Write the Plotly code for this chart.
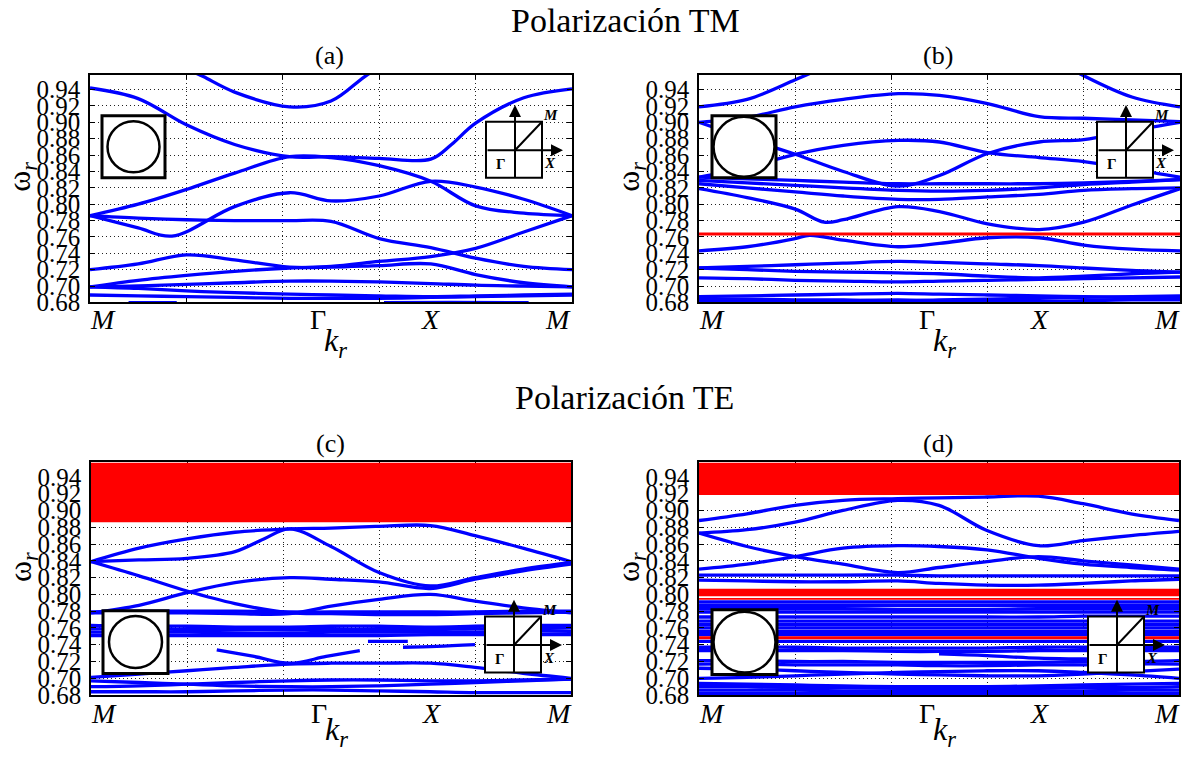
import plotly.graph_objects as go

W, H = 1189, 768

# ---------------- data ----------------
K = [0, 0.1, 0.2, 0.3, 0.414, 0.5, 0.6, 0.707, 0.8, 0.9, 1.0]
y_ticks = [0.68, 0.70, 0.72, 0.74, 0.76, 0.78, 0.80, 0.82, 0.84, 0.86, 0.88, 0.90, 0.92, 0.94]
y_tick_text = ["0.68", "0.70", "0.72", "0.74", "0.76", "0.78", "0.80", "0.82",
               "0.84", "0.86", "0.88", "0.90", "0.92", "0.94"]
x_grid = [0, 0.2, 0.4, 0.6, 0.8, 1.0]
k_labels = ["M", "Γ", "X", "M"]

bands_a = [
    ([0.15, 0.2, 0.235, 0.3, 0.414, 0.5, 0.57, 0.62], [0.985, 0.966, 0.956, 0.937, 0.919, 0.926, 0.956, 0.975]),
    ([0, 0.1, 0.2, 0.3, 0.414, 0.5, 0.6, 0.707, 0.75, 0.8, 0.9, 1],
     [0.942, 0.929, 0.897, 0.873, 0.858, 0.858, 0.856, 0.855, 0.873, 0.899, 0.93, 0.941]),
    (K, [0.786, 0.80, 0.818, 0.838, 0.858, 0.857, 0.847, 0.828, 0.798, 0.789, 0.786]),
    ([0, 0.1, 0.17, 0.3, 0.414, 0.5, 0.6, 0.707, 0.8, 0.9, 1],
     [0.786, 0.771, 0.761, 0.797, 0.814, 0.804, 0.81, 0.828, 0.821, 0.806, 0.786]),
    (K, [0.786, 0.783, 0.781, 0.78, 0.78, 0.779, 0.758, 0.747, 0.734, 0.724, 0.72]),
    (K, [0.72, 0.727, 0.738, 0.732, 0.723, 0.723, 0.725, 0.727, 0.714, 0.704, 0.699]),
    (K, [0.699, 0.707, 0.713, 0.718, 0.722, 0.724, 0.73, 0.736, 0.746, 0.766, 0.786]),
    (K, [0.699, 0.70, 0.702, 0.704, 0.706, 0.706, 0.705, 0.703, 0.701, 0.70, 0.699]),
    (K, [0.699, 0.697, 0.694, 0.692, 0.69, 0.689, 0.688, 0.687, 0.688, 0.689, 0.69]),
    (K, [0.689, 0.688, 0.687, 0.686, 0.685, 0.685, 0.685, 0.686, 0.687, 0.688, 0.689]),
    ([0.08, 0.12, 0.18], [0.6797, 0.6797, 0.6797]),
    ([0.61, 0.75, 0.91], [0.6797, 0.680, 0.6797]),
]

bands_b = [
    ([0, 0.1, 0.2, 0.25, 0.3], [0.919, 0.928, 0.952, 0.965, 0.98]),
    ([0.7, 0.8, 0.9, 1], [0.99, 0.957, 0.931, 0.919]),
    (K, [0.90, 0.906, 0.919, 0.928, 0.935, 0.933, 0.923, 0.907, 0.905, 0.903, 0.901]),
    (K, [0.833, 0.845, 0.861, 0.872, 0.878, 0.876, 0.863, 0.857, 0.852, 0.843, 0.833]),
    (K, [0.90, 0.88, 0.861, 0.84, 0.822, 0.835, 0.862, 0.876, 0.879, 0.89, 0.90]),
    (K, [0.833, 0.831, 0.829, 0.827, 0.825, 0.825, 0.825, 0.825, 0.826, 0.828, 0.83]),
    (K, [0.829, 0.826, 0.823, 0.82, 0.817, 0.816, 0.817, 0.82, 0.824, 0.827, 0.83]),
    (K, [0.825, 0.82, 0.815, 0.81, 0.806, 0.806, 0.809, 0.812, 0.817, 0.819, 0.82]),
    ([0, 0.1, 0.2, 0.26, 0.3, 0.414, 0.5, 0.6, 0.707, 0.8, 0.9, 1],
     [0.819, 0.808, 0.794, 0.778, 0.781, 0.797, 0.791, 0.776, 0.769, 0.778, 0.799, 0.819]),
    ([0, 0.1, 0.2, 0.23, 0.3, 0.414, 0.5, 0.6, 0.707, 0.8, 0.9, 1],
     [0.743, 0.748, 0.758, 0.762, 0.756, 0.748, 0.752, 0.759, 0.759, 0.75, 0.745, 0.743]),
    (K, [0.722, 0.724, 0.726, 0.728, 0.73, 0.729, 0.727, 0.725, 0.722, 0.719, 0.717]),
    (K, [0.722, 0.72, 0.718, 0.717, 0.716, 0.715, 0.712, 0.71, 0.712, 0.715, 0.717]),
    (K, [0.71, 0.709, 0.707, 0.706, 0.705, 0.706, 0.707, 0.708, 0.709, 0.71, 0.711]),
    (K, [0.687, 0.688, 0.689, 0.69, 0.691, 0.69, 0.689, 0.688, 0.687, 0.686, 0.686]),
    (K, [0.684, 0.684, 0.683, 0.683, 0.682, 0.683, 0.684, 0.685, 0.686, 0.687, 0.688]),
    (K, [0.681, 0.681, 0.682, 0.682, 0.683, 0.682, 0.681, 0.681, 0.682, 0.683, 0.683]),
]

bands_c = [
    (K, [0.839, 0.855, 0.866, 0.874, 0.878, 0.879, 0.881, 0.882, 0.87, 0.855, 0.839]),
    ([0, 0.1, 0.2, 0.3, 0.36, 0.414, 0.5, 0.6, 0.707, 0.8, 0.9, 1],
     [0.839, 0.841, 0.843, 0.851, 0.866, 0.878, 0.857, 0.826, 0.81, 0.82, 0.83, 0.838]),
    (K, [0.839, 0.822, 0.804, 0.789, 0.778, 0.777, 0.776, 0.776, 0.777, 0.778, 0.779]),
    (K, [0.778, 0.787, 0.802, 0.814, 0.82, 0.818, 0.815, 0.807, 0.818, 0.828, 0.836]),
    (K, [0.778, 0.778, 0.778, 0.777, 0.777, 0.786, 0.794, 0.8, 0.792, 0.784, 0.778]),
    (K, [0.763, 0.762, 0.762, 0.761, 0.761, 0.762, 0.762, 0.761, 0.762, 0.763, 0.763]),
    (K, [0.759, 0.759, 0.758, 0.758, 0.758, 0.758, 0.758, 0.758, 0.759, 0.759, 0.76]),
    (K, [0.755, 0.755, 0.755, 0.754, 0.754, 0.755, 0.755, 0.755, 0.755, 0.756, 0.756]),
    (K, [0.751, 0.751, 0.751, 0.751, 0.751, 0.751, 0.751, 0.752, 0.752, 0.752, 0.752]),
    (K, [0.779, 0.78, 0.78, 0.78, 0.779, 0.779, 0.779, 0.779, 0.779, 0.78, 0.78]),
    ([0.262, 0.34, 0.414, 0.49, 0.56], [0.734, 0.726, 0.718, 0.726, 0.733]),
    (K, [0.701, 0.705, 0.709, 0.713, 0.717, 0.718, 0.718, 0.718, 0.713, 0.706, 0.70]),
    (K, [0.697, 0.695, 0.693, 0.691, 0.69, 0.69, 0.691, 0.693, 0.695, 0.697, 0.699]),
    (K, [0.69, 0.691, 0.693, 0.695, 0.697, 0.698, 0.698, 0.697, 0.697, 0.698, 0.699]),
    (K, [0.684, 0.684, 0.684, 0.685, 0.686, 0.686, 0.685, 0.684, 0.683, 0.683, 0.683]),
    ([0.577, 0.62, 0.66], [0.744, 0.744, 0.744]),
    ([0.65, 0.72, 0.8], [0.737, 0.738, 0.74]),
]

bands_d = [
    (K, [0.888, 0.896, 0.906, 0.912, 0.914, 0.915, 0.916, 0.917, 0.908, 0.896, 0.888]),
    (K, [0.873, 0.877, 0.886, 0.90, 0.912, 0.906, 0.876, 0.858, 0.864, 0.87, 0.875]),
    (K, [0.873, 0.857, 0.845, 0.836, 0.826, 0.832, 0.839, 0.845, 0.84, 0.835, 0.83]),
    (K, [0.83, 0.836, 0.845, 0.855, 0.858, 0.857, 0.853, 0.843, 0.836, 0.832, 0.829]),
    (K, [0.823, 0.823, 0.823, 0.823, 0.823, 0.822, 0.822, 0.822, 0.822, 0.822, 0.822]),
    (K, [0.817, 0.816, 0.815, 0.815, 0.816, 0.813, 0.811, 0.811, 0.813, 0.816, 0.818]),
    (K, [0.791, 0.791, 0.791, 0.791, 0.791, 0.791, 0.791, 0.791, 0.791, 0.791, 0.791]),
    (K, [0.787, 0.787, 0.787, 0.787, 0.787, 0.787, 0.787, 0.787, 0.787, 0.787, 0.787]),
    (K, [0.783, 0.783, 0.783, 0.783, 0.782, 0.782, 0.782, 0.783, 0.783, 0.783, 0.783]),
    (K, [0.779, 0.779, 0.779, 0.779, 0.779, 0.779, 0.779, 0.779, 0.779, 0.779, 0.779]),
    (K, [0.773, 0.773, 0.773, 0.773, 0.773, 0.773, 0.773, 0.773, 0.774, 0.774, 0.774]),
    (K, [0.768, 0.768, 0.768, 0.768, 0.768, 0.768, 0.768, 0.768, 0.768, 0.768, 0.768]),
    (K, [0.764, 0.764, 0.764, 0.764, 0.764, 0.764, 0.764, 0.764, 0.764, 0.764, 0.764]),
    (K, [0.760, 0.760, 0.760, 0.760, 0.760, 0.760, 0.760, 0.760, 0.760, 0.760, 0.760]),
    (K, [0.756, 0.756, 0.756, 0.756, 0.756, 0.756, 0.756, 0.756, 0.756, 0.756, 0.756]),
    (K, [0.752, 0.752, 0.752, 0.752, 0.752, 0.752, 0.752, 0.752, 0.752, 0.752, 0.752]),
    (K, [0.744, 0.744, 0.744, 0.744, 0.744, 0.744, 0.744, 0.744, 0.744, 0.744, 0.744]),
    (K, [0.737, 0.737, 0.737, 0.736, 0.736, 0.736, 0.736, 0.737, 0.737, 0.737, 0.737]),
    (K, [0.733, 0.733, 0.733, 0.733, 0.732, 0.732, 0.732, 0.733, 0.733, 0.733, 0.733]),
    ([0.5, 0.6, 0.707, 0.8, 0.9], [0.729, 0.727, 0.724, 0.723, 0.722]),
    (K, [0.721, 0.721, 0.72, 0.72, 0.719, 0.719, 0.719, 0.719, 0.72, 0.72, 0.721]),
    (K, [0.717, 0.717, 0.716, 0.716, 0.716, 0.715, 0.715, 0.716, 0.716, 0.717, 0.717]),
    (K, [0.712, 0.711, 0.709, 0.707, 0.705, 0.704, 0.703, 0.703, 0.705, 0.708, 0.711]),
    (K, [0.70, 0.701, 0.703, 0.705, 0.707, 0.708, 0.709, 0.709, 0.707, 0.704, 0.70]),
    (K, [0.694, 0.693, 0.692, 0.691, 0.69, 0.69, 0.69, 0.691, 0.692, 0.693, 0.694]),
    (K, [0.690, 0.690, 0.689, 0.689, 0.688, 0.688, 0.688, 0.688, 0.689, 0.689, 0.690]),
    (K, [0.686, 0.686, 0.686, 0.685, 0.685, 0.685, 0.685, 0.685, 0.685, 0.686, 0.686]),
    (K, [0.682, 0.682, 0.682, 0.682, 0.682, 0.682, 0.682, 0.682, 0.682, 0.682, 0.682]),
]

# red gap regions (omega ranges)
red_b = [(0.7617, 0.7653)]
red_c = [(0.8858, 0.97)]
red_d = [(0.9183, 0.97), (0.7978, 0.8068), (0.7935, 0.7957), (0.7464, 0.7500)]

# ---------------- layout helpers ----------------
SERIF = "Liberation Serif, Times New Roman, serif"
panels = [
    ("", 90, 572, 76, 308, bands_a, [], "(a)"),
    ("2", 699, 1180, 76, 308, bands_b, red_b, "(b)"),
    ("3", 91, 571, 471, 708, bands_c, red_c, "(c)"),
    ("4", 699, 1179, 471, 708, bands_d, red_d, "(d)"),
]


def px(x):
    return x / W


def py(y):
    return 1 - y / H


fig = go.Figure()
shapes = []
annotations = []
layout_axes = {}

for suf, L, R, T, B, bands, reds, lab in panels:
    xa = "x" + suf
    ya = "y" + suf
    for xs, ys in bands:
        fig.add_trace(go.Scatter(
            x=xs, y=ys, mode="lines", xaxis=xa, yaxis=ya,
            line=dict(color="rgb(0,0,255)", width=3.3, shape="spline", smoothing=1.0),
            showlegend=False, hoverinfo="skip"))
    ylo = 0.68
    yhi = 0.68 + 0.02 * (B - T) / (16.67 if T < 400 else 17.1)
    common_ax = dict(showline=True, mirror="ticks", linecolor="black", linewidth=1.5,
                     ticks="inside", ticklen=5, tickcolor="black",
                     showgrid=True, gridcolor="#222", griddash="1px,3px", gridwidth=1,
                     zeroline=False)
    layout_axes["xaxis" + suf] = dict(
        domain=[px(L), px(R)], range=[0, 1], anchor=ya,
        tickvals=x_grid, showticklabels=False, **common_ax)
    layout_axes["yaxis" + suf] = dict(
        domain=[py(B), py(T)], range=[ylo, yhi], anchor=xa,
        tickvals=y_ticks, ticktext=y_tick_text,
        tickfont=dict(family=SERIF, size=25, color="black"),
        ticklabelstandoff=3, **common_ax)
    for y0, y1 in reds:
        shapes.append(dict(type="rect", xref=xa, yref=ya, x0=0, x1=1,
                           y0=y0, y1=min(y1, yhi), fillcolor="rgb(255,0,0)",
                           line=dict(width=0), layer="above"))

    row_top = T < 400
    ly = B + (17 if row_top else 19)
    ky = B + (41 if row_top else 37)
    for off, txt in zip([13, 228, 340, 468], k_labels):
        t = "Γ" if txt == "Γ" else "<i>" + txt + "</i>"
        annotations.append(dict(x=px(L + off), y=py(ly), xref="paper", yref="paper",
                                text=t, showarrow=False, xanchor="center", yanchor="middle",
                                font=dict(family=SERIF, size=28, color="black")))
    annotations.append(dict(x=px(L + 245), y=py(ky), xref="paper", yref="paper",
                            text="<i>k</i><sub><i>r</i></sub>", showarrow=False,
                            xanchor="center", yanchor="middle",
                            font=dict(family=SERIF, size=32, color="black")))
    annotations.append(dict(x=px(L - 68), y=py((T + B) / 2 - 12), xref="paper", yref="paper",
                            text="ω<sub><i>r</i></sub>", showarrow=False, textangle=-90,
                            xanchor="center", yanchor="middle",
                            font=dict(family=SERIF, size=32, color="black")))
    annotations.append(dict(x=px(L + 239), y=py(T - 19), xref="paper", yref="paper",
                            text=lab, showarrow=False, xanchor="center", yanchor="middle",
                            font=dict(family=SERIF, size=26, color="black")))

# ---------------- insets ----------------
left_insets = [
    (102, 118, 165, 181, 26),
    (712, 118, 776, 181, 30.5),
    (103, 622, 168, 686, 26.5),
    (712, 621, 777, 687, 31),
]
for x0, y0, x1, y1, r in left_insets:
    shapes.append(dict(type="rect", xref="paper", yref="paper", x0=px(x0), x1=px(x1),
                       y0=py(y1), y1=py(y0), fillcolor="white",
                       line=dict(color="black", width=3), layer="above"))
    cx, cy = (x0 + x1) / 2, (y0 + y1) / 2
    shapes.append(dict(type="circle", xref="paper", yref="paper", x0=px(cx - r), x1=px(cx + r),
                       y0=py(cy + r), y1=py(cy - r), fillcolor="white",
                       line=dict(color="black", width=2.5), layer="above"))

right_insets = [(486, 124), (1097, 124), (485, 628), (1088, 628)]
for x0, y0 in right_insets:
    x1, y1 = x0 + 56, y0 + 57
    cx, cy = x0 + 29, y0 + 29
    shapes.append(dict(type="rect", xref="paper", yref="paper", x0=px(x0), x1=px(x1),
                       y0=py(y1), y1=py(y0), fillcolor="white",
                       line=dict(color="black", width=2), layer="above"))
    shapes.append(dict(type="line", xref="paper", yref="paper", x0=px(cx), x1=px(x1),
                       y0=py(cy), y1=py(y0), line=dict(color="black", width=2), layer="above"))
    annotations.append(dict(x=px(cx), y=py(y0 - 17), xref="paper", yref="paper",
                            ax=0, ay=(y1 - (y0 - 17)), axref="pixel", ayref="pixel",
                            text="", showarrow=True, arrowhead=2, arrowsize=1.2,
                            arrowwidth=2, arrowcolor="black"))
    annotations.append(dict(x=px(x1 + 21), y=py(cy), xref="paper", yref="paper",
                            ax=(x0 - (x1 + 21)), ay=0, axref="pixel", ayref="pixel",
                            text="", showarrow=True, arrowhead=2, arrowsize=1.2,
                            arrowwidth=2, arrowcolor="black"))
    annotations.append(dict(x=px(x1 + 8), y=py(y0 - 7), xref="paper", yref="paper",
                            text="<b><i>M</i></b>", showarrow=False,
                            xanchor="center", yanchor="middle",
                            font=dict(family=SERIF, size=15, color="black")))
    annotations.append(dict(x=px(x1 + 8), y=py(cy + 13), xref="paper", yref="paper",
                            text="<b><i>X</i></b>", showarrow=False,
                            xanchor="center", yanchor="middle",
                            font=dict(family=SERIF, size=15, color="black")))
    annotations.append(dict(x=px(x0 + 15), y=py(cy + 14), xref="paper", yref="paper",
                            text="<b>Γ</b>", showarrow=False,
                            xanchor="center", yanchor="middle",
                            font=dict(family=SERIF, size=15, color="black")))

# ---------------- titles ----------------
annotations.append(dict(x=px(625), y=py(21), xref="paper", yref="paper",
                        text="Polarización TM", showarrow=False,
                        xanchor="center", yanchor="middle",
                        font=dict(family=SERIF, size=34, color="black")))
annotations.append(dict(x=px(624), y=py(405), xref="paper", yref="paper",
                        text="Polarización TE", showarrow=False,
                        xanchor="center", yanchor="middle",
                        font=dict(family=SERIF, size=34, color="black")))

fig.update_layout(
    width=W, height=H, margin=dict(l=0, r=0, t=0, b=0),
    paper_bgcolor="white", plot_bgcolor="white",
    showlegend=False, shapes=shapes, annotations=annotations,
    **layout_axes)

fig.write_html("out.html")
